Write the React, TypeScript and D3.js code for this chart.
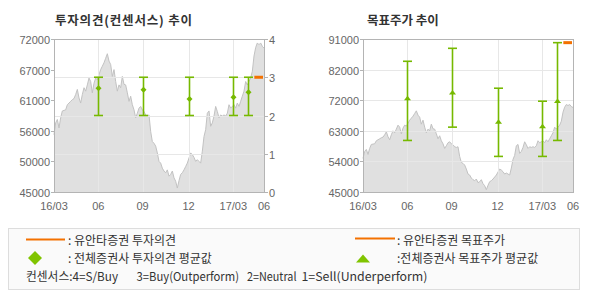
import React from 'react';
import * as d3 from 'd3';

// ---------- data ----------
const xTickLabels = ['16/03', '06', '09', '12', '17/03', '06'];
const xTickIdx = [0, 26.6, 53.1, 80.7, 107.6, 126];

const price = [
  55100, 57200, 57800, 56300, 58100, 59300, 59400, 59500, 60400, 60700,
  61000, 61300, 61500, 62200, 63100, 61600, 60700, 62200, 63400, 62800,
  63900, 65100, 64500, 62500, 64200, 65100, 64800, 65700, 66600, 67200,
  67800, 68600, 69400, 68100, 67500, 65400, 66600, 64500, 62800, 63900,
  63400, 65400, 64000, 63900, 62500, 61000, 61900, 60400, 59500, 58100,
  58900, 59800, 60100, 59500, 59200, 58600, 58400, 58600, 55700, 53900,
  53600, 53100, 51900, 50400, 50100, 49200, 48700, 48400, 48900, 47800,
  48100, 48700, 47500, 46900, 45700, 47000, 48100, 48400, 48900, 49500,
  50100, 51000, 51900, 51600, 51100, 50400, 50700, 50400, 50100, 52200,
  54800, 56000, 58900, 59300, 56600, 57200, 58400, 60100, 59200, 58100,
  58600, 58400, 58600, 58400, 58900, 60400, 59800, 60100, 60400, 59800,
  60700, 60100, 61000, 61900, 62800, 64500, 63900, 64500, 65100, 66300,
  69000, 70500, 71300, 71000, 71300, 70700, 70400,
];

const priceTickLabels = ['45000', '50000', '56000', '61000', '67000', '72000'];
const opinionTicks = [0, 1, 2, 3, 4];
const targetTickLabels = ['45000', '54000', '63000', '72000', '82000', '91000'];

const consensusIdx = [26.6, 53.1, 80.7, 107.6, 116.5];
const opinionAvg = [2.71, 2.67, 2.43, 2.48, 2.61];
const opinionMax = [3, 3, 3, 3, 3];
const opinionMin = [2, 2, 2, 2, 2];
const yuantaOpinion = 3;
const yuantaSpan = [120.2, 125.4];

const targetAvg = [73000, 74800, 66000, 64600, 72200];
const targetMax = [84300, 88200, 76200, 72300, 89900];
const targetMin = [60500, 64500, 55700, 55700, 60500];
const yuantaTarget = 89900;

const consensusLegend = ['컨센서스:4=S/Buy', '3=Buy(Outperform)', '2=Neutral', '1=Sell(Underperform)'];

// ---------- style ----------
const GREEN = '#76b900';
const ORANGE = '#f37100';
const AXIS = '#b4b4b4';
const GRID = '#e7e7e7';
const AREA = '#e0e0e0';
const LINE = '#c2c2c2';
const LABEL = '#666';
const NUMFONT = '"Liberation Sans", Arial, sans-serif';
const KFONT = '"Noto Sans CJK KR", "Noto Sans", sans-serif';

const TOP = 39;
const BOTTOM = 192;

function Panel({ left, kind }: { left: number; kind: 'opinion' | 'target' }) {
  const right = left + 210;
  const x = d3.scaleLinear().domain([0, price.length - 1]).range([left, right]);
  const priceDomain = kind === 'opinion' ? [45000, 72000] : [45000, 91000];
  const yP = d3.scaleLinear().domain(priceDomain).range([BOTTOM, TOP]);
  const labels = kind === 'opinion' ? priceTickLabels : targetTickLabels;
  const step = (priceDomain[1] - priceDomain[0]) / (labels.length - 1);
  const labelVals = labels.map((_, i) => priceDomain[0] + i * step);
  const yO = d3.scaleLinear().domain([0, 4]).range([BOTTOM, TOP]);

  const area = d3
    .area<number>()
    .x((_, i) => x(i))
    .y0(BOTTOM)
    .y1((d) => yP(d));
  const line = d3
    .line<number>()
    .x((_, i) => x(i))
    .y((d) => yP(d));

  const hGrid =
    kind === 'opinion'
      ? opinionTicks.slice(1, 4).map((t) => yO(t))
      : labelVals.slice(1, 5).map((v) => yP(v));

  return (
    <g>
      <path d={area(price) || ''} fill={AREA} />
      <path d={line(price) || ''} fill="none" stroke={LINE} strokeWidth={1} />
      {hGrid.map((gy, i) => (
        <line key={'h' + i} x1={left} x2={right} y1={Math.round(gy) + 0.5} y2={Math.round(gy) + 0.5} stroke={GRID} />
      ))}
      {xTickIdx.slice(1, 5).map((t, i) => (
        <line key={'v' + i} x1={Math.round(x(t)) + 0.5} x2={Math.round(x(t)) + 0.5} y1={TOP} y2={BOTTOM} stroke={GRID} />
      ))}
      <rect x={left + 0.5} y={TOP + 0.5} width={210} height={BOTTOM - TOP} fill="none" stroke={AXIS} />
      {labelVals.map((v, i) => (
        <g key={'l' + i}>
          <line x1={left - 3} x2={left} y1={Math.round(yP(v)) + 0.5} y2={Math.round(yP(v)) + 0.5} stroke={AXIS} />
          <text x={left - 4} y={yP(v) + 5} textAnchor="end" fontFamily={NUMFONT} fontSize={11} fill={LABEL}>
            {labels[i]}
          </text>
        </g>
      ))}
      {kind === 'opinion' &&
        opinionTicks.map((t) => (
          <g key={'r' + t}>
            <line x1={right} x2={right + 4} y1={Math.round(yO(t)) + 0.5} y2={Math.round(yO(t)) + 0.5} stroke={AXIS} />
            <text x={right + 5} y={yO(t) + 5} fontFamily={NUMFONT} fontSize={11} fill={LABEL}>
              {t}
            </text>
          </g>
        ))}
      {xTickLabels.map((lab, i) => (
        <text key={'x' + i} x={x(xTickIdx[i])} y={210} textAnchor="middle" fontFamily={NUMFONT} fontSize={11} fill={LABEL}>
          {lab}
        </text>
      ))}
      {consensusIdx.map((ci, i) => {
        const cx = Math.round(x(ci)) + 0.5;
        const yTop = kind === 'opinion' ? yO(opinionMax[i]) : yP(targetMax[i]);
        const yBot = kind === 'opinion' ? yO(opinionMin[i]) : yP(targetMin[i]);
        const yAvg = kind === 'opinion' ? yO(opinionAvg[i]) : yP(targetAvg[i]);
        return (
          <g key={'c' + i}>
            <line x1={cx} x2={cx} y1={yTop} y2={yBot} stroke={GREEN} strokeWidth={1.6} />
            <line x1={cx - 4.5} x2={cx + 4.5} y1={yTop} y2={yTop} stroke={GREEN} strokeWidth={1.6} />
            <line x1={cx - 4.5} x2={cx + 4.5} y1={yBot} y2={yBot} stroke={GREEN} strokeWidth={1.6} />
            {kind === 'opinion' ? (
              <path d={`M${cx},${yAvg - 3}L${cx + 3},${yAvg}L${cx},${yAvg + 3}L${cx - 3},${yAvg}Z`} fill={GREEN} />
            ) : (
              <path d={`M${cx},${yAvg - 3}L${cx + 3.5},${yAvg + 1.5}L${cx - 3.5},${yAvg + 1.5}Z`} fill={GREEN} />
            )}
          </g>
        );
      })}
      <line
        x1={x(yuantaSpan[0])}
        x2={x(yuantaSpan[1])}
        y1={kind === 'opinion' ? yO(yuantaOpinion) : yP(yuantaTarget)}
        y2={kind === 'opinion' ? yO(yuantaOpinion) : yP(yuantaTarget)}
        stroke={ORANGE}
        strokeWidth={3}
      />
    </g>
  );
}

const legendX = [26, 136.5, 247, 301.5];
const legendW = [92, 102.5, 49.5, 126];

export default function App() {
  return (
    <svg
      width={590}
      height={300}
      style={{ position: 'absolute', left: 0, top: 0, background: '#fff' }}
    >
      <text x={55} y={24.5} fontFamily={KFONT} fontWeight="bold" fontSize={12.5} fill="#333" textLength={137} lengthAdjust="spacing">
        투자의견(컨센서스) 추이
      </text>
      <text x={367} y={24.5} fontFamily={KFONT} fontWeight="bold" fontSize={12.5} fill="#333">
        목표주가 추이
      </text>
      <Panel left={54} kind="opinion" />
      <Panel left={363} kind="target" />

      <rect x={8.5} y={228.5} width={571} height={61} fill="#fafafa" stroke="#dddddd" />
      <line x1={26} x2={65} y1={239.5} y2={239.5} stroke={ORANGE} strokeWidth={2} />
      <text x={68} y={244.5} fontFamily={KFONT} fontSize={12} fill="#333" xmlSpace="preserve">
        : 유안타증권 투자의견
      </text>
      <path d="M35,251 L42,258 L35,265 L28,258 Z" fill="#80c400" />
      <text x={68} y={262.5} fontFamily={KFONT} fontSize={12} fill="#333" xmlSpace="preserve">
        : 전체증권사 투자의견 평균값
      </text>
      {consensusLegend.map((t, i) => (
        <text
          key={'cl' + i}
          x={legendX[i]}
          y={281}
          fontFamily={KFONT}
          fontSize={12}
          fill="#333"
          textLength={legendW[i]}
          lengthAdjust="spacingAndGlyphs"
        >
          {t}
        </text>
      ))}

      <line x1={355} x2={395} y1={238.5} y2={238.5} stroke={ORANGE} strokeWidth={2} />
      <text x={397} y={244.5} fontFamily={KFONT} fontSize={12} fill="#333" xmlSpace="preserve">
        : 유안타증권 목표주가
      </text>
      <path d="M363,254.5 L370,262.5 L356,262.5 Z" fill="#80c400" />
      <text x={397} y={262.5} fontFamily={KFONT} fontSize={12} fill="#333">
        :전체증권사 목표주가 평균값
      </text>
    </svg>
  );
}
